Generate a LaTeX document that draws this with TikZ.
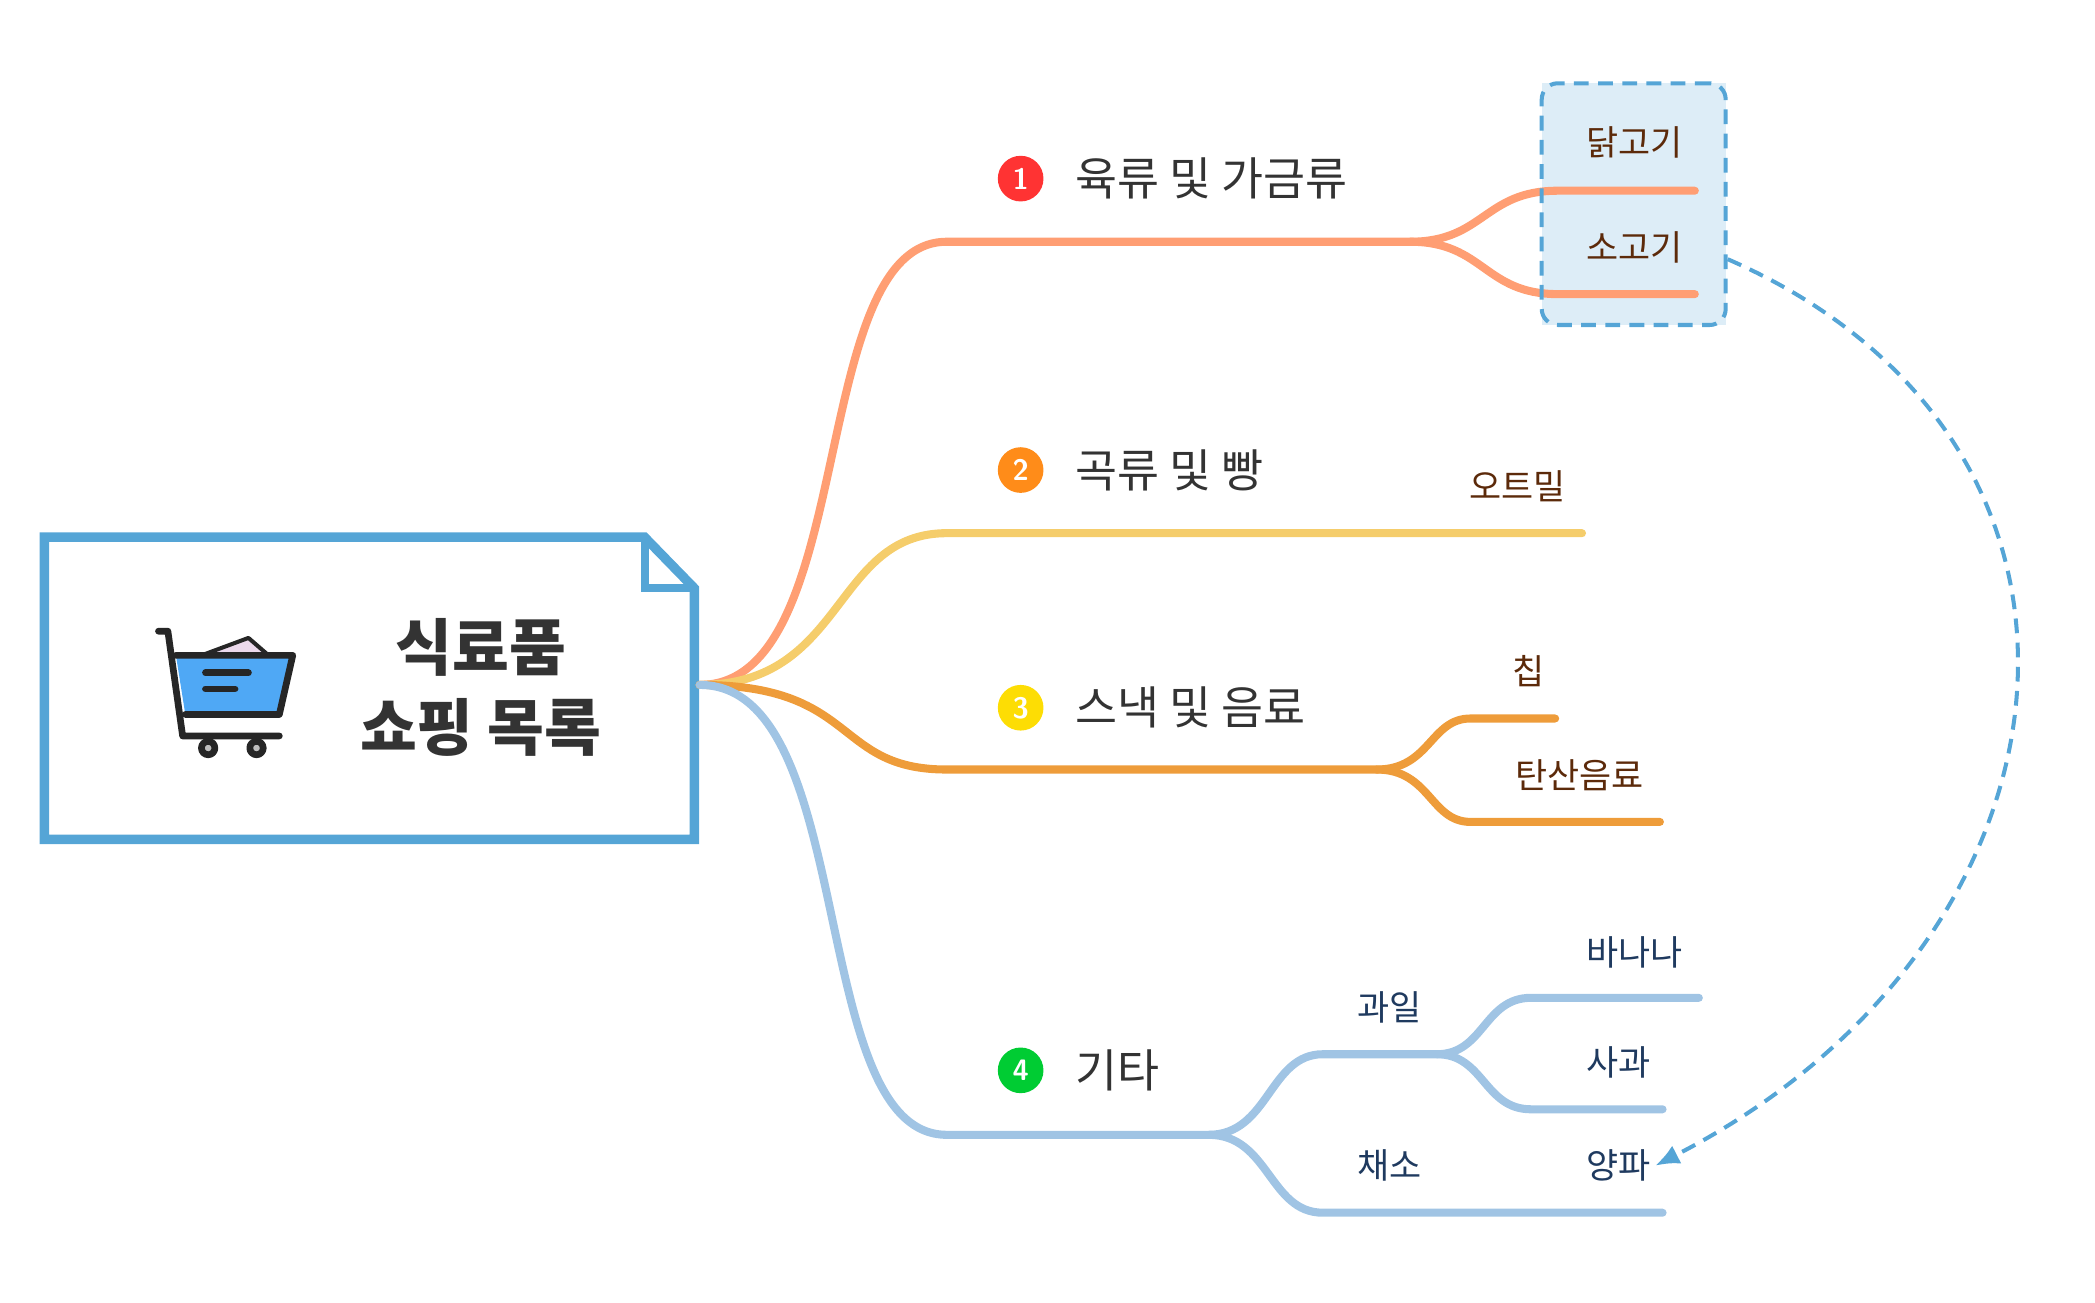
\documentclass[tikz,border=0pt]{standalone}
\usepackage{fontspec}
\newfontfamily\krfont{Noto Sans CJK KR}
\usetikzlibrary{arrows.meta}
\definecolor{rootblue}{HTML}{55A5D6}
\definecolor{basket}{HTML}{4FA8F5}
\definecolor{meat}{HTML}{FF9E73}
\definecolor{grain}{HTML}{F5CD6B}
\definecolor{snack}{HTML}{EE9C3A}
\definecolor{other}{HTML}{A0C4E4}
\definecolor{brownish}{HTML}{5C2A0A}
\definecolor{navy}{HTML}{1F3A5F}
\definecolor{darktext}{HTML}{333333}
\tikzset{
  branch/.style={line width=6pt,line cap=round},
  topic/.style={font=\krfont\fontsize{34}{36}\selectfont,text=darktext,anchor=west},
  leaf/.style={font=\krfont\fontsize{26}{28}\selectfont,text=#1},
  badge/.style={circle,fill=#1,minimum size=34pt,inner sep=0pt,text=white,
    font=\sffamily\bfseries\fontsize{22}{22}\selectfont},
  linkdash/.style={dash pattern=on 11pt off 7pt},
}
\begin{document}
\begin{tikzpicture}[x=1pt,y=-1pt]
  \useasboundingbox (0,0) rectangle (1560,970);
  % root document box
  \draw[rootblue,line width=7pt,fill=white,line join=miter]
    (33,400) -- (480,400) -- (517,438) -- (517,625) -- (33,625) -- cycle;
  \draw[rootblue,line width=6pt] (480,400) -- (480,438) -- (517,438);
  \coordinate (root) at (521,510);
  % cart icon
  \begin{scope}[line width=5pt,draw=black!85,line cap=round,line join=round]
    \fill[violet!15,draw=black!85,line width=3pt] (150,488) -- (185,475) -- (200,488) -- cycle;
    \fill[basket] (131,488) -- (218,488) -- (208,532) -- (138,532) -- cycle;
    \draw (118,470) -- (125,470) -- (136,548) -- (208,548);
    \draw (131,488) -- (218,488) -- (208,532) -- (138,532);
    \draw (153,501) -- (185,501);
    \draw (153,513) -- (175,513);
    \draw[fill=gray!50] (155,557) circle (5);
    \draw[fill=gray!50] (191,557) circle (5);
  \end{scope}
  \node[font=\krfont\bfseries\fontsize{46}{60}\selectfont,text=darktext,align=center]
    (title) at (358,512) {식료품\\쇼핑 목록};
  % branch 1
  \coordinate (m0) at (705,180);
  \coordinate (m1) at (1050,180);
  \coordinate (m2a) at (1160,142);
  \coordinate (m2b) at (1160,219);
  \fill[rootblue!20] (1148,62) rectangle (1285,242);
  \draw[branch,meat] (root) .. controls (640,510) and (600,180) .. (m0) -- (m1)
    .. controls (1105,180) and (1105,142) .. (m2a) -- (1262,142);
  \draw[branch,meat] (m1) .. controls (1105,180) and (1105,219) .. (m2b) -- (1262,219);
  \node[draw=rootblue,linkdash,line width=3pt,rounded corners=12pt,
    minimum width=137pt,minimum height=180pt] (group) at (1216.5,152) {};
  \node[leaf=brownish] (chicken) at (1217,106) {닭고기};
  \node[leaf=brownish] (beef) at (1217,184) {소고기};
  \node[badge=red!80] (b1) at (760,133) {1};
  \node[topic] (meatlbl) at (797,133) {육류 및 가금류};
  % branch 2
  \coordinate (g0) at (705,397);
  \coordinate (g1) at (1178,397);
  \draw[branch,grain] (root) .. controls (630,510) and (620,397) .. (g0) -- (g1);
  \node[badge=orange!90] (b2) at (760,350) {2};
  \node[topic] (grainlbl) at (797,350) {곡류 및 빵};
  \node[leaf=brownish] (oat) at (1130,362) {오트밀};
  % branch 3
  \coordinate (s0) at (705,573);
  \coordinate (s1) at (1025,573);
  \coordinate (s2a) at (1095,535);
  \coordinate (s2b) at (1095,612);
  \draw[branch,snack] (root) .. controls (640,510) and (620,573) .. (s0) -- (s1)
    .. controls (1065,573) and (1065,535) .. (s2a) -- (1158,535);
  \draw[branch,snack] (s1) .. controls (1065,573) and (1065,612) .. (s2b) -- (1236,612);
  \node[badge=yellow!80!orange] (b3) at (760,527) {3};
  \node[topic] (snacklbl) at (797,527) {스낵 및 음료};
  \node[leaf=brownish] (chip) at (1138,500) {칩};
  \node[leaf=brownish] (soda) at (1176,577) {탄산음료};
  % branch 4
  \coordinate (o0) at (705,845);
  \coordinate (o1) at (900,845);
  \coordinate (o2a) at (985,785);
  \coordinate (o2b) at (985,903);
  \coordinate (o3) at (1070,785);
  \coordinate (o4a) at (1140,743);
  \coordinate (o4b) at (1140,826);
  \draw[branch,other] (root) .. controls (640,510) and (600,845) .. (o0) -- (o1)
    .. controls (945,845) and (945,785) .. (o2a) -- (o3)
    .. controls (1105,785) and (1105,743) .. (o4a) -- (1265,743);
  \draw[branch,other] (o3) .. controls (1105,785) and (1105,826) .. (o4b) -- (1238,826);
  \draw[branch,other] (o1) .. controls (945,845) and (945,903) .. (o2b) -- (1238,903);
  \node[badge=green!60!teal] (b4) at (760,797) {4};
  \node[topic] (otherlbl) at (797,797) {기타};
  \node[leaf=navy] (fruit) at (1035,750) {과일};
  \node[leaf=navy] (veg) at (1035,868) {채소};
  \node[leaf=navy] (banana) at (1217,709) {바나나};
  \node[leaf=navy] (apple) at (1205,791) {사과};
  \node[leaf=navy] (onion) at (1205,868) {양파};
  % relation
  \draw[rootblue,linkdash,line width=3pt,-{Latex[length=18pt,width=15pt]}]
    (group.east |- 0,193) .. controls (1600,330) and (1560,700) .. (onion.east);
\end{tikzpicture}
\end{document}
